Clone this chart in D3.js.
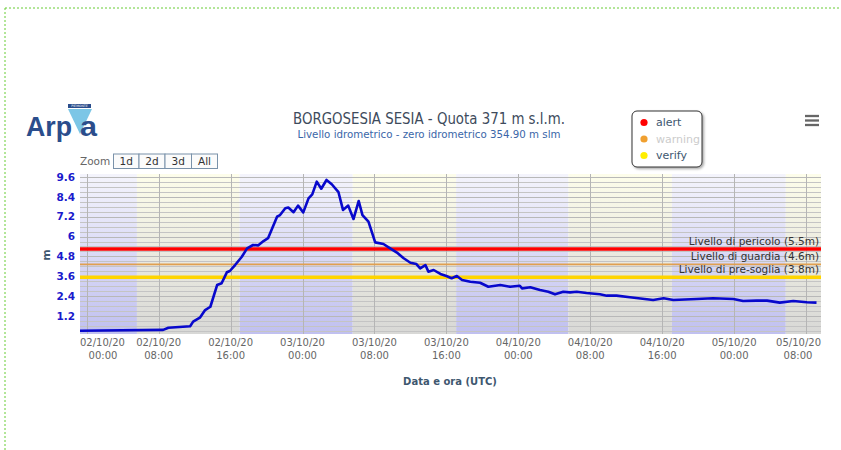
<!DOCTYPE html>
<html><head><meta charset="utf-8">
<script src="https://cdn.jsdelivr.net/npm/d3@7"></script>
<style>
html,body{margin:0;padding:0;background:#fff;}
svg{display:block;font-family:"DejaVu Sans",Verdana,sans-serif;}
</style></head>
<body>
<svg id="chart" width="841" height="450"></svg>
<script>
// ---- DATA ----
const times = ["2020-10-01 23:15","2020-10-02 08:30","2020-10-02 09:05","2020-10-02 11:30","2020-10-02 11:50","2020-10-02 12:35","2020-10-02 13:10","2020-10-02 13:45","2020-10-02 14:30","2020-10-02 15:00","2020-10-02 15:35","2020-10-02 15:55","2020-10-02 16:30","2020-10-02 17:15","2020-10-02 17:50","2020-10-02 18:30","2020-10-02 19:05","2020-10-02 19:40","2020-10-02 20:10","2020-10-02 21:10","2020-10-02 21:30","2020-10-02 22:05","2020-10-02 22:25","2020-10-02 23:00","2020-10-02 23:30","2020-10-03 00:05","2020-10-03 00:40","2020-10-03 01:05","2020-10-03 01:35","2020-10-03 02:05","2020-10-03 02:40","2020-10-03 03:15","2020-10-03 04:00","2020-10-03 04:30","2020-10-03 05:05","2020-10-03 05:40","2020-10-03 06:15","2020-10-03 06:40","2020-10-03 07:20","2020-10-03 08:05","2020-10-03 09:00","2020-10-03 09:45","2020-10-03 10:30","2020-10-03 11:15","2020-10-03 12:00","2020-10-03 12:40","2020-10-03 13:05","2020-10-03 13:40","2020-10-03 14:00","2020-10-03 14:35","2020-10-03 15:20","2020-10-03 16:00","2020-10-03 16:35","2020-10-03 17:10","2020-10-03 17:45","2020-10-03 18:40","2020-10-03 19:45","2020-10-03 20:40","2020-10-03 22:00","2020-10-03 23:05","2020-10-04 00:10","2020-10-04 00:25","2020-10-04 01:20","2020-10-04 02:25","2020-10-04 03:20","2020-10-04 04:05","2020-10-04 05:00","2020-10-04 05:45","2020-10-04 06:30","2020-10-04 07:35","2020-10-04 09:05","2020-10-04 09:50","2020-10-04 10:55","2020-10-04 12:25","2020-10-04 15:00","2020-10-04 16:10","2020-10-04 17:15","2020-10-04 19:50","2020-10-04 21:40","2020-10-04 23:55","2020-10-05 01:00","2020-10-05 02:30","2020-10-05 03:40","2020-10-05 05:05","2020-10-05 06:35","2020-10-05 08:05","2020-10-05 09:10"];
const levels = [0.31,0.36,0.49,0.58,0.86,1.10,1.56,1.76,3.07,3.18,3.84,3.92,4.28,4.78,5.29,5.49,5.47,5.73,5.90,7.20,7.30,7.71,7.75,7.47,7.87,7.46,8.31,8.55,9.32,8.89,9.42,9.16,8.68,7.61,7.87,7.06,8.15,7.30,6.90,5.65,5.55,5.29,5.03,4.69,4.42,4.34,4.08,4.28,3.88,3.98,3.74,3.62,3.48,3.62,3.38,3.27,3.21,2.97,3.07,2.97,3.03,2.87,2.94,2.77,2.67,2.51,2.67,2.63,2.67,2.59,2.51,2.43,2.43,2.33,2.17,2.27,2.17,2.23,2.27,2.23,2.11,2.13,2.13,2.01,2.11,2.03,2.01];

// night (blue) / day (yellow) bands
const bandStarts = ["2020-10-01 23:15","2020-10-02 05:35","2020-10-02 17:00","2020-10-03 05:35","2020-10-03 17:05","2020-10-04 05:35","2020-10-04 17:05","2020-10-05 05:45"];
const bandEnds   = ["2020-10-02 05:35","2020-10-02 17:00","2020-10-03 05:35","2020-10-03 17:05","2020-10-04 05:35","2020-10-04 17:05","2020-10-05 05:45","2020-10-05 09:40"];
const bandKinds  = ["night","day","night","day","night","day","night","day"];

const xDomain = ["2020-10-01 23:15","2020-10-05 09:40"];
const yDomain = [0.113, 9.78];
const yTicks = [1.2,2.4,3.6,4.8,6,7.2,8.4,9.6];
const yTickLabels = ["1.2","2.4","3.6","4.8","6","7.2","8.4","9.6"];
const xTicks = ["2020-10-02 00:00","2020-10-02 08:00","2020-10-02 16:00","2020-10-03 00:00","2020-10-03 08:00","2020-10-03 16:00","2020-10-04 00:00","2020-10-04 08:00","2020-10-04 16:00","2020-10-05 00:00","2020-10-05 08:00"];

const thresholdValues = [5.25, 4.32, 3.54];
const thresholdLabels = ["Livello di pericolo (5.5m)","Livello di guardia (4.6m)","Livello di pre-soglia (3.8m)"];
const thresholdColors = ["#ff0000","#e0a050","#ffd500"];
const thresholdWidths = [3.5, 1.6, 3.5];

const legendNames = ["alert","warning","verify"];
const legendColors = ["#ff0000","#f0a030","#ffee00"];
const legendText = ["#3e576f","#cccccc","#3e576f"];

const zoomButtons = ["1d","2d","3d","All"];

const titleText = "BORGOSESIA SESIA - Quota 371 m s.l.m.";
const subtitleText = "Livello idrometrico - zero idrometrico 354.90 m slm";

// ---- DRAW ----
const parse = d3.utcParse("%Y-%m-%d %H:%M");
const svg = d3.select("#chart");
const L = 80, R = 821, T = 174, B = 334;

const x = d3.scaleUtc().domain(xDomain.map(parse)).range([L, R]);
const y = d3.scaleLinear().domain(yDomain).range([B, T]);

// page dotted border
svg.append("line").attr("x1",5).attr("x2",841).attr("y1",8).attr("y2",8)
  .attr("stroke","#66cc33").attr("stroke-width",1).attr("stroke-dasharray","2,2");
svg.append("line").attr("x1",5).attr("x2",5).attr("y1",8).attr("y2",450)
  .attr("stroke","#66cc33").attr("stroke-width",1).attr("stroke-dasharray","2,2");

const defs = svg.append("defs");
const gN = defs.append("linearGradient").attr("id","gNight").attr("x1",0).attr("x2",0).attr("y1",0).attr("y2",1);
gN.append("stop").attr("offset","0%").attr("stop-color","#f4f4fc");
gN.append("stop").attr("offset","100%").attr("stop-color","#c0c0f0");
const gD = defs.append("linearGradient").attr("id","gDay").attr("x1",0).attr("x2",0).attr("y1",0).attr("y2",1);
gD.append("stop").attr("offset","0%").attr("stop-color","#fdfdea");
gD.append("stop").attr("offset","100%").attr("stop-color","#d8d8d6");
const sh = defs.append("filter").attr("id","shadow").attr("x","-20%").attr("y","-20%").attr("width","150%").attr("height","150%");
sh.append("feDropShadow").attr("dx",1.5).attr("dy",1.5).attr("stdDeviation",1.2).attr("flood-color","#000").attr("flood-opacity",0.35);

// bands
svg.append("g").selectAll("rect").data(bandKinds).join("rect")
  .attr("x",(d,i)=>x(parse(bandStarts[i])))
  .attr("width",(d,i)=>x(parse(bandEnds[i]))-x(parse(bandStarts[i])))
  .attr("y",T).attr("height",B-T)
  .attr("fill",d=>d==="night"?"url(#gNight)":"url(#gDay)");

// minor horizontal grid
const minor = d3.range(0.3, 9.7, 0.3);
svg.append("g").selectAll("line").data(minor).join("line")
  .attr("x1",L).attr("x2",R).attr("y1",d=>Math.round(y(d))+0.5).attr("y2",d=>Math.round(y(d))+0.5)
  .attr("stroke","#c4c4c4").attr("stroke-width",1);
// major horizontal grid
svg.append("g").selectAll("line").data(yTicks).join("line")
  .attr("x1",L).attr("x2",R).attr("y1",d=>Math.round(y(d))+0.5).attr("y2",d=>Math.round(y(d))+0.5)
  .attr("stroke","#b8b8b8").attr("stroke-width",1);
// vertical grid
svg.append("g").selectAll("line").data(xTicks).join("line")
  .attr("x1",d=>Math.round(x(parse(d)))+0.5).attr("x2",d=>Math.round(x(parse(d)))+0.5)
  .attr("y1",T).attr("y2",B).attr("stroke","#b5b5b5").attr("stroke-width",1);

// threshold lines
svg.append("g").selectAll("line").data(thresholdValues).join("line")
  .attr("x1",L).attr("x2",R).attr("y1",d=>y(d)).attr("y2",d=>y(d))
  .attr("stroke",(d,i)=>thresholdColors[i]).attr("stroke-width",(d,i)=>thresholdWidths[i]);
svg.append("g").selectAll("text").data(thresholdValues).join("text")
  .attr("x",R-2).attr("y",d=>y(d)-4).attr("text-anchor","end")
  .attr("font-size",10.5).attr("fill","#333")
  .text((d,i)=>thresholdLabels[i]);

// data line
const pts = times.map((t,i)=>[parse(t), levels[i]]);
svg.append("path").datum(pts)
  .attr("d", d3.line().x(d=>x(d[0])).y(d=>y(d[1])))
  .attr("fill","none").attr("stroke","#0808cc").attr("stroke-width",2.6)
  .attr("stroke-linejoin","round");

// y axis labels
svg.append("g").selectAll("text").data(yTicks).join("text")
  .attr("x",75).attr("y",d=>y(d)).attr("dy","0.35em").attr("text-anchor","end")
  .attr("font-size",10.5).attr("font-weight","bold").attr("fill","#1a1acc")
  .text((d,i)=>yTickLabels[i]);
svg.append("text").attr("transform","translate(50,255) rotate(-90)")
  .attr("text-anchor","middle").attr("font-size",11).attr("font-weight","bold").attr("fill","#3e576f").text("m");

// x axis labels
const xl = svg.append("g").selectAll("text").data(xTicks).join("text")
  .attr("x",(d,i)=> i===0 ? L : i===xTicks.length-1 ? R : x(parse(d)))
  .attr("text-anchor",(d,i)=> i===0 ? "start" : i===xTicks.length-1 ? "end" : "middle")
  .attr("font-size",10).attr("fill","#666");
const fDate = d3.utcFormat("%d/%m/%y"), fTime = d3.utcFormat("%H:%M");
xl.append("tspan").attr("y",346).text(d=>fDate(parse(d)));
xl.append("tspan").attr("y",359).attr("x",(d,i)=> i===0 ? L+23 : i===xTicks.length-1 ? R-23 : x(parse(d)))
  .attr("text-anchor","middle").text(d=>fTime(parse(d)));
svg.append("text").attr("x",450).attr("y",385).attr("text-anchor","middle")
  .attr("font-size",10).attr("font-weight","bold").attr("fill","#3e576f").text("Data e ora (UTC)");

// title
svg.append("text").attr("x",429).attr("y",124).attr("text-anchor","middle")
  .attr("font-size",15).attr("fill","#3e4b5c").attr("textLength",272).attr("lengthAdjust","spacingAndGlyphs").text(titleText);
svg.append("text").attr("x",429).attr("y",138).attr("text-anchor","middle")
  .attr("font-size",10.5).attr("fill","#3a66a8").attr("textLength",263).attr("lengthAdjust","spacingAndGlyphs").text(subtitleText);

// legend
svg.append("rect").attr("x",632).attr("y",111).attr("width",70).attr("height",56).attr("rx",5)
  .attr("fill","#fff").attr("stroke","#333").attr("stroke-width",1).attr("filter","url(#shadow)");
const lg = svg.append("g").selectAll("g").data(legendNames).join("g")
  .attr("transform",(d,i)=>`translate(644,${122.5+i*16.5})`);
lg.append("circle").attr("r",3.6).attr("fill",(d,i)=>legendColors[i]);
lg.append("text").attr("x",12).attr("dy","0.35em").attr("font-size",11).attr("fill",(d,i)=>legendText[i]).text(d=>d);

// hamburger menu
svg.append("g").selectAll("line").data([0,1,2]).join("line")
  .attr("x1",805).attr("x2",819).attr("y1",d=>116+d*4.5).attr("y2",d=>116+d*4.5)
  .attr("stroke","#666").attr("stroke-width",2.3);

// zoom buttons
svg.append("text").attr("x",80).attr("y",165).attr("font-size",10.5).attr("fill","#666").text("Zoom");
const bx = [113.5,139,165,191.5], bw = [25.5,26,26.5,26];
const bg = svg.append("g").selectAll("g").data(zoomButtons).join("g")
  .attr("transform",(d,i)=>`translate(${bx[i]},154)`);
bg.append("rect").attr("width",(d,i)=>bw[i]).attr("height",14.5).attr("fill","#fbfbfb").attr("stroke","#7a92aa").attr("stroke-width",1);
bg.append("text").attr("x",(d,i)=>bw[i]/2).attr("y",11.2).attr("text-anchor","middle")
  .attr("font-size",10.5).attr("fill","#333").text(d=>d);

// Arpa logo
const logo = svg.append("g");
logo.append("rect").attr("x",68).attr("y",104).attr("width",23).attr("height",4).attr("fill","#2b4d8c");
logo.append("text").attr("x",79.5).attr("y",107.2).attr("text-anchor","middle").attr("font-size",3.2).attr("fill","#fff").text("PIEMONTE");
logo.append("text").attr("x",26).attr("y",136).attr("font-size",28).attr("font-weight","bold").attr("fill","#2b4d8c")
  .attr("textLength",46).attr("lengthAdjust","spacingAndGlyphs").attr("font-family","Liberation Sans, Arial, sans-serif").text("Arp");
logo.append("path").attr("d","M68,109 L92,109 L80,134 Z").attr("fill","#7cc6e6");
logo.append("text").attr("x",80).attr("y",136).attr("font-size",27).attr("font-weight","bold").attr("fill","#2b4d8c")
  .attr("textLength",17).attr("lengthAdjust","spacingAndGlyphs").attr("font-family","Liberation Sans, Arial, sans-serif").text("a");
</script>
</body></html>
